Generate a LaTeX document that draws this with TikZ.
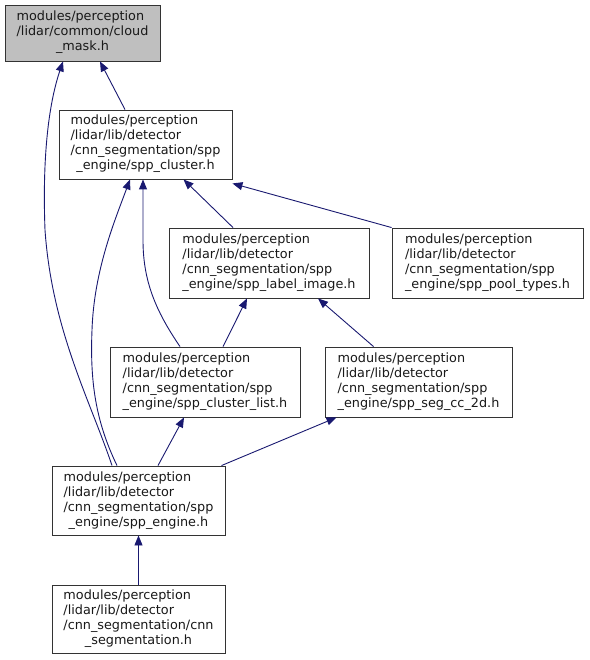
\documentclass[tikz,border=0pt]{standalone}
\usepackage{fontspec}
\newfontfamily\dvs{DejaVu Sans}
\usetikzlibrary{arrows.meta}
\definecolor{edgeblue}{HTML}{191970}
\definecolor{nodegray}{HTML}{BFBFBF}
\newcommand\lblfour[4]{\begin{tabular}{@{}l@{}}#1\\#2\\#3\\\multicolumn{1}{@{}c@{}}{#4}\end{tabular}}
\newcommand\lblthree[3]{\begin{tabular}{@{}l@{}}#1\\#2\\\multicolumn{1}{@{}c@{}}{#3}\end{tabular}}
\tikzset{
  filebox/.style={draw=black!80, line width=0.9pt, fill=white, inner sep=0pt,
    font=\dvs\fontsize{12.8}{15}\selectfont, text=black!90},
  edge/.style={draw=edgeblue, line width=0.9pt, -{Triangle[length=10pt,width=8pt]}, fill=none},
}
\begin{document}
\begin{tikzpicture}[x=1pt,y=-1pt]
\useasboundingbox (0,0) rectangle (589,660);
\node[filebox, fill=nodegray, minimum width=155pt, minimum height=56pt] (n1) at (82.5,33)
  {\lblthree{modules/perception}{/lidar/common/cloud}{\_mask.h}};
\node[filebox, minimum width=173pt, minimum height=69pt] (n2) at (145.5,144.5)
  {\lblfour{modules/perception}{/lidar/lib/detector}{/cnn\_segmentation/spp}{\_engine/spp\_cluster.h}};
\node[filebox, minimum width=200pt, minimum height=70pt] (n3) at (269,263)
  {\lblfour{modules/perception}{/lidar/lib/detector}{/cnn\_segmentation/spp}{\_engine/spp\_label\_image.h}};
\node[filebox, minimum width=191pt, minimum height=70pt] (n4) at (487.5,263)
  {\lblfour{modules/perception}{/lidar/lib/detector}{/cnn\_segmentation/spp}{\_engine/spp\_pool\_types.h}};
\node[filebox, minimum width=190pt, minimum height=70pt] (n5) at (205,382)
  {\lblfour{modules/perception}{/lidar/lib/detector}{/cnn\_segmentation/spp}{\_engine/spp\_cluster\_list.h}};
\node[filebox, minimum width=187pt, minimum height=70pt] (n6) at (418.5,382)
  {\lblfour{modules/perception}{/lidar/lib/detector}{/cnn\_segmentation/spp}{\_engine/spp\_seg\_cc\_2d.h}};
\node[filebox, minimum width=173pt, minimum height=69pt] (n7) at (138.5,500.5)
  {\lblfour{modules/perception}{/lidar/lib/detector}{/cnn\_segmentation/spp}{\_engine/spp\_engine.h}};
\node[filebox, minimum width=173pt, minimum height=68pt] (n8) at (138.5,619)
  {\lblfour{modules/perception}{/lidar/lib/detector}{/cnn\_segmentation/cnn}{\_segmentation.h}};
% edges (child -> parent)
\draw[edge] ([xshift=-20.5pt]n2.north) -- ([xshift=17.5pt]n1.south);
\draw[edge] ([xshift=-26.5pt]n7.north) .. controls (90,400) and (52,330) .. (45,230)
  .. controls (42,150) and (50,100) .. ([xshift=-19.5pt]n1.south);
\draw[edge] ([xshift=-36pt]n3.north) -- ([xshift=38pt]n2.south);
\draw[edge] (n4.north west) -- ([yshift=-4pt]n2.south east);
\draw[edge] ([xshift=-25pt]n5.north) .. controls (155,310) and (143,280) .. (143,240)
  -- ([xshift=-2.5pt]n2.south);
\draw[edge] ([xshift=-21.5pt]n7.north) .. controls (95,420) and (90,380) .. (92,330)
  .. controls (94,270) and (115,220) .. ([xshift=-15.5pt]n2.south);
\draw[edge] ([xshift=18pt]n5.north) -- ([xshift=-22pt]n3.south);
\draw[edge] ([xshift=-45pt]n6.north) -- ([xshift=49pt]n3.south);
\draw[edge] ([xshift=19.5pt]n7.north) -- ([xshift=-21pt]n5.south);
\draw[edge] ([xshift=83pt]n7.north) -- ([xshift=-82pt]n6.south);
\draw[edge] (n8.north) -- (n7.south);
\end{tikzpicture}
\end{document}
